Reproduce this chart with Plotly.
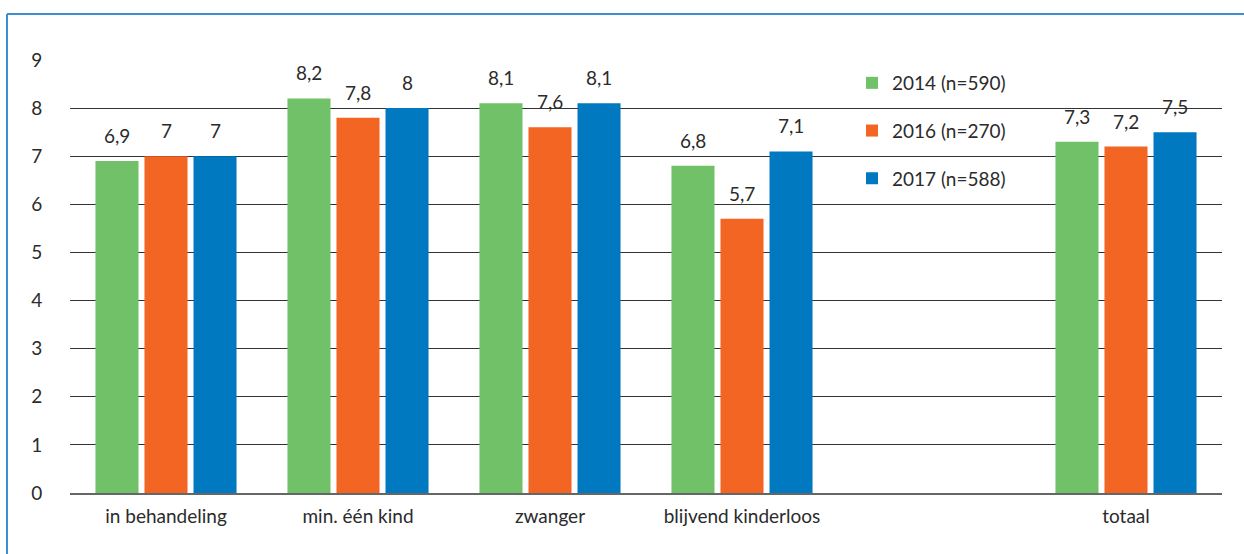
import plotly.graph_objects as go

categories = ["in behandeling", "min. één kind", "zwanger", "blijvend kinderloos", " ", "totaal"]
series_names = ["2014 (n=590)", "2016 (n=270)", "2017 (n=588)"]
v2014 = [6.9, 8.2, 8.1, 6.8, None, 7.3]
v2016 = [7.0, 7.8, 7.6, 5.7, None, 7.2]
v2017 = [7.0, 8.0, 8.1, 7.1, None, 7.5]
colors = ["#70c167", "#f26522", "#0079c1"]
y_ticks = [0, 1, 2, 3, 4, 5, 6, 7, 8, 9]

FONT = "Lato"
FS = 19
TXT = "#2b2b2b"
BARGAP = 0.234
BARGROUPGAP = 0.122

def fmt(v):
    return ("{:g}".format(v)).replace(".", ",")

series = [v2014, v2016, v2017]
fig = go.Figure()
for i, (name, vals) in enumerate(zip(series_names, series)):
    fig.add_trace(go.Bar(
        x=categories, y=vals, name=name, marker_color=colors[i],
        marker_line_width=0, legendgroup=str(i),
    ))

# value labels placed via the category axis scale
slot = (1 - BARGAP) / len(series)
annotations = []
for i, vals in enumerate(series):
    for ci, v in enumerate(vals):
        if v is None:
            continue
        annotations.append(dict(
            x=ci + (i - 1) * slot, y=v, xref="x", yref="y",
            text=fmt(v), showarrow=False, yanchor="bottom", yshift=12,
            font=dict(family=FONT, size=FS, color=TXT),
        ))

W, H = 1244, 554
L, R, T, B = 70, 22, 60, 61
pw, ph = W - L - R, H - T - B

def px(x):
    return (x - L) / pw

def py(y):
    return (H - B - y) / ph

fig.update_layout(
    width=W, height=H,
    margin=dict(l=L, r=R, t=T, b=B, pad=0),
    paper_bgcolor="white", plot_bgcolor="white",
    barmode="group", bargap=BARGAP, bargroupgap=BARGROUPGAP,
    font=dict(family=FONT, size=FS, color=TXT),
    showlegend=True,
    legend=dict(
        x=px(852), y=py(64), xanchor="left", yanchor="top",
        traceorder="grouped", tracegroupgap=20,
        font=dict(family=FONT, size=FS, color=TXT),
        bgcolor="rgba(0,0,0,0)", itemwidth=30,
    ),
    annotations=annotations,
    xaxis=dict(
        type="category", showgrid=False, showline=True,
        linecolor="#666666", linewidth=2,
        ticks="outside", ticklen=5, tickcolor="rgba(0,0,0,0)",
        tickfont=dict(family=FONT, size=FS, color=TXT),
        layer="above traces",
    ),
    yaxis=dict(
        range=[0, 9], tickvals=y_ticks, showgrid=True,
        gridcolor="#333333", gridwidth=1, zeroline=False,
        showline=False, ticks="outside", ticklen=23, tickcolor="rgba(0,0,0,0)",
        tickfont=dict(family=FONT, size=FS, color=TXT),
        layer="above traces",
    ),
    shapes=[
        dict(type="line", xref="paper", yref="paper",
             x0=px(7), x1=px(W + 5), y0=py(14), y1=py(14),
             line=dict(color="#3d8fd1", width=2)),
        dict(type="line", xref="paper", yref="paper",
             x0=px(7), x1=px(7), y0=py(14), y1=py(H + 5),
             line=dict(color="#3d8fd1", width=2)),
    ],
)

fig.write_html("out.html")
